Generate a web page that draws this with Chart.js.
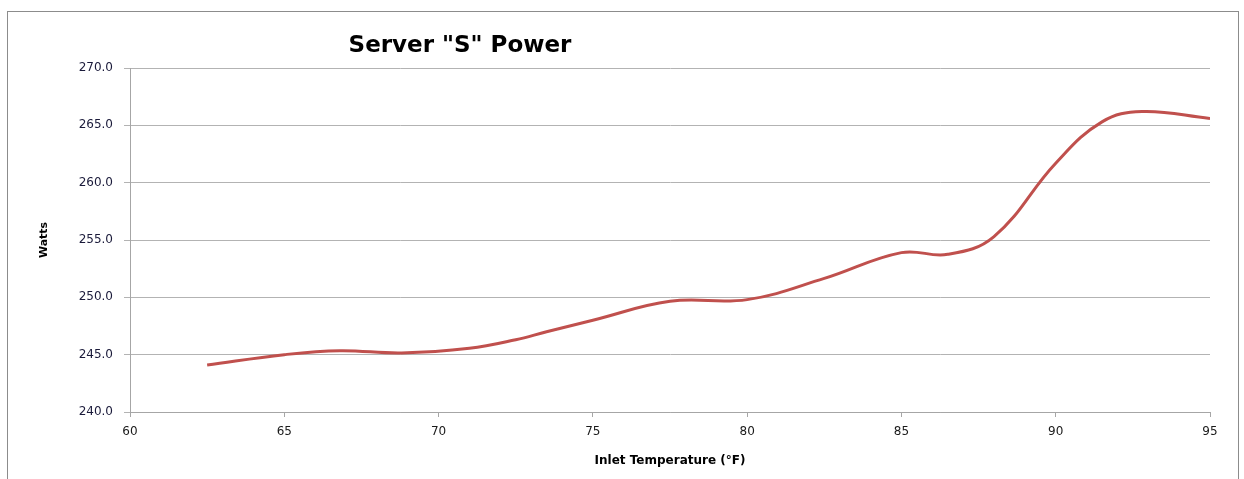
<!DOCTYPE html>
<html>
<head>
<meta charset="utf-8">
<script src="https://cdn.jsdelivr.net/npm/chart.js@4"></script>
<style>
  html, body { margin: 0; padding: 0; background: #ffffff; }
  #wrap { position: relative; width: 1244px; height: 479px; }
  #frame { position: absolute; left: 7px; top: 11px; width: 1232px; height: 480px; border: 1px solid #8c8c8c; box-sizing: border-box; }
  canvas { position: absolute; left: 0; top: 0; }
</style>
</head>
<body>
<div id="wrap">
  <div id="frame"></div>
  <canvas id="c" width="1244" height="479"></canvas>
</div>
<script>
const chartTitle = 'Server "S" Power';
const xAxisTitle = 'Inlet Temperature (°F)';
const yAxisTitle = 'Watts';
const temperatures = [62.5, 65, 66.8, 68.8, 71, 72.5, 73.5, 75, 77.5, 80, 82.5, 85, 86.5, 88, 90, 91.5, 92.8, 95];
const watts = [244.1, 245.0, 245.35, 245.15, 245.55, 246.3, 247.0, 248.0, 249.65, 249.8, 251.65, 253.9, 253.75, 255.3, 261.7, 265.3, 266.2, 265.6];
const xTicks = [60, 65, 70, 75, 80, 85, 90, 95];
const yTicks = [240, 245, 250, 255, 260, 265, 270];

const points = temperatures.map((t, i) => ({ x: t, y: watts[i] }));

const titlePlugin = {
  id: 'customTitle',
  afterDraw(chart) {
    const ctx = chart.ctx;
    ctx.save();
    ctx.font = 'bold 23px "DejaVu Sans"';
    ctx.fillStyle = '#000000';
    ctx.textAlign = 'center';
    ctx.textBaseline = 'middle';
    ctx.fillText(chartTitle, 460, 46);
    ctx.restore();
  }
};

new Chart(document.getElementById('c'), {
  type: 'line',
  data: {
    datasets: [{
      data: points,
      borderColor: '#C0504D',
      borderWidth: 3,
      pointRadius: 0,
      tension: 0.4,
      fill: false
    }]
  },
  options: {
    responsive: false,
    animation: false,
    layout: { padding: { left: 35, top: 68, right: 34, bottom: 0 } },
    plugins: { legend: { display: false }, tooltip: { enabled: false }, title: { display: false } },
    scales: {
      x: {
        type: 'linear',
        min: 60, max: 95,
        afterBuildTicks(axis) { axis.ticks = xTicks.map(v => ({ value: v })); },
        afterFit(axis) { axis.height = 67; },
        grid: { drawOnChartArea: false, drawTicks: true, tickLength: 5, color: '#a6a6a6' },
        border: { color: '#a6a6a6', width: 1 },
        ticks: { font: { family: 'DejaVu Sans', size: 12 }, color: '#1a1a1a', padding: 8, maxRotation: 0 },
        title: { display: true, text: xAxisTitle, font: { family: 'DejaVu Sans', size: 12, weight: 'bold' }, color: '#000000', padding: { top: 0, bottom: 11 } }
      },
      y: {
        type: 'linear',
        min: 240, max: 270,
        afterBuildTicks(axis) { axis.ticks = yTicks.map(v => ({ value: v })); },
        afterFit(axis) { axis.width = 95; },
        grid: { drawOnChartArea: true, drawTicks: true, tickLength: 6, color: '#b3b3b3', lineWidth: 1 },
        border: { color: '#a6a6a6', width: 1 },
        ticks: { font: { family: 'DejaVu Sans', size: 12 }, color: '#1a1a3a', padding: 11, callback: v => v.toFixed(1) },
        title: { display: true, text: yAxisTitle, font: { family: 'DejaVu Sans', size: 11, weight: 'bold' }, color: '#000000', padding: { top: 3, bottom: 0 } }
      }
    }
  },
  plugins: [titlePlugin]
});
</script>
</body>
</html>
